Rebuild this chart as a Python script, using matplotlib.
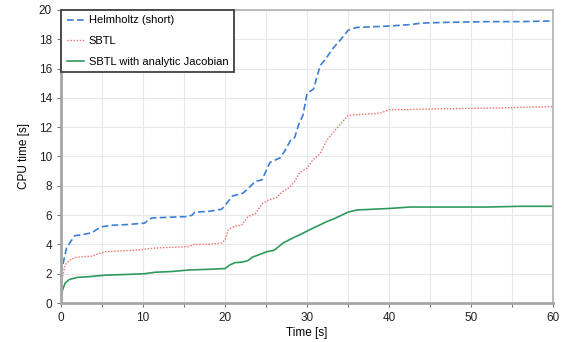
import matplotlib
matplotlib.use("Agg")
import matplotlib.pyplot as plt
from matplotlib.ticker import MultipleLocator

plt.rcParams["font.family"] = ["Liberation Sans", "DejaVu Sans"]

# Helmholtz (short)
t_helm = [0, 0.3, 0.7, 1.2, 1.7, 2.5, 3.8, 4.3, 5.0, 6.0, 8.0, 10.2, 10.7, 11.1, 13.0, 15.5,
          16.0, 16.3, 18.0, 19.6, 20.2, 20.9, 22.2, 22.8, 23.7, 24.5, 25.0, 25.5, 26.7, 27.2,
          28.0, 28.5, 29.0, 29.5, 30.0, 30.8, 31.6, 32.2, 33.2, 34.0, 35.0, 36.0, 38.0, 40.0,
          42.6, 44.0, 47.0, 52.0, 56.0, 60.0]
cpu_helm = [2.0, 2.8, 3.8, 4.2, 4.6, 4.65, 4.8, 5.0, 5.2, 5.3, 5.35, 5.45, 5.7, 5.8, 5.85, 5.9,
            6.0, 6.2, 6.25, 6.4, 6.8, 7.3, 7.5, 7.8, 8.3, 8.4, 9.0, 9.6, 9.9, 10.3,
            11.1, 11.3, 12.2, 12.8, 14.3, 14.6, 16.2, 16.6, 17.4, 17.9, 18.6, 18.8, 18.85, 18.9,
            19.0, 19.1, 19.15, 19.2, 19.2, 19.25]

# SBTL
t_sbtl = [0, 0.2, 0.5, 1.0, 1.7, 2.5, 3.8, 4.5, 5.4, 7.0, 9.0, 11.5, 13.5, 15.5, 16.3, 18.0,
          19.6, 20.0, 20.4, 21.2, 22.0, 22.8, 23.7, 24.6, 25.2, 26.3, 27.0, 27.9, 28.5, 29.1,
          30.0, 30.7, 31.6, 32.4, 33.6, 35.0, 36.0, 38.9, 40.1, 42.2, 46.0, 52.7, 56.0, 60.0]
cpu_sbtl = [1.0, 1.8, 2.6, 2.9, 3.1, 3.15, 3.2, 3.35, 3.5, 3.55, 3.6, 3.75, 3.8, 3.85, 4.0, 4.0,
            4.1, 4.3, 5.0, 5.25, 5.3, 5.9, 6.1, 6.8, 7.0, 7.2, 7.6, 7.9, 8.3, 8.9,
            9.2, 9.75, 10.2, 11.1, 11.9, 12.8, 12.85, 12.95, 13.2, 13.2, 13.25, 13.3, 13.35, 13.4]

# SBTL with analytic Jacobian
t_jac = [0, 0.2, 0.5, 1.0, 2.0, 3.5, 5.4, 8.0, 10.2, 11.5, 13.5, 15.5, 18.0, 20.0, 20.6,
         21.2, 22.2, 22.8, 23.4, 23.7, 25.1, 26.0, 27.1, 28.5, 29.1, 30.7, 32.4, 33.5, 35.0,
         36.1, 40.0, 42.6, 46.0, 52.0, 56.0, 60.0]
cpu_jac = [0.5, 0.9, 1.35, 1.6, 1.75, 1.8, 1.9, 1.95, 2.0, 2.1, 2.15, 2.25, 2.3, 2.35, 2.6,
           2.75, 2.8, 2.9, 3.15, 3.2, 3.5, 3.6, 4.1, 4.5, 4.65, 5.1, 5.55, 5.8, 6.2,
           6.35, 6.45, 6.55, 6.55, 6.55, 6.6, 6.6]

fig = plt.figure(figsize=(5.62, 3.42), dpi=100)
ax = fig.add_axes([0.1085, 0.114, 0.8755, 0.857])

ax.plot(t_helm, cpu_helm, color="#3b7fd6", lw=1.2, ls=(0, (4, 2)), label="Helmholtz (short)")
ax.plot(t_sbtl, cpu_sbtl, color="#f06a6a", lw=1.0, ls=(0, (1, 1.2)), label="SBTL")
ax.plot(t_jac, cpu_jac, color="#2e9b5c", lw=1.2, label="SBTL with analytic Jacobian")

ax.set_xlim(0, 60)
ax.set_ylim(0, 20)
ax.xaxis.set_major_locator(MultipleLocator(10))
ax.xaxis.set_minor_locator(MultipleLocator(5))
ax.yaxis.set_major_locator(MultipleLocator(2))
ax.grid(True, which="both", color="#e8e8e8", lw=0.8)
ax.set_axisbelow(True)

for side in ["left", "bottom"]:
    ax.spines[side].set_color("#a6a6a6")
    ax.spines[side].set_linewidth(2)
for side in ["top", "right"]:
    ax.spines[side].set_color("#b0b0b0")
    ax.spines[side].set_linewidth(1.2)
ax.tick_params(which="both", direction="out", color="#777777", labelsize=8.5, length=3, width=0.8,
               labelcolor="#222222")

ax.set_xlabel("Time [s]", fontsize=8.5, labelpad=2)
ax.set_ylabel("CPU time [s]", fontsize=8.5, labelpad=6)

leg = ax.legend(loc="upper left", fontsize=8, fancybox=False, framealpha=1,
                borderaxespad=0, handlelength=1.6, handletextpad=0.4, borderpad=0.5,
                labelspacing=0.95)
leg.get_frame().set_edgecolor("#404040")
leg.get_frame().set_linewidth(1.3)

fig.savefig("out.png", dpi=100)
